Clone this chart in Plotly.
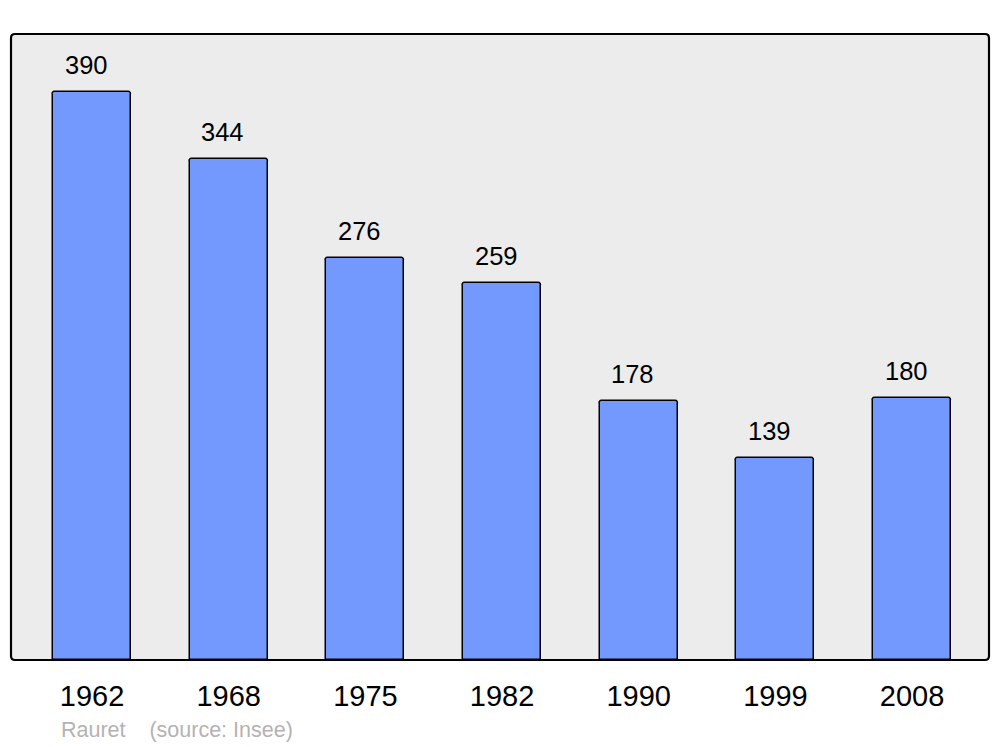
import plotly.graph_objects as go

years = ["1962", "1968", "1975", "1982", "1990", "1999", "2008"]
population = [390, 344, 276, 259, 178, 139, 180]
source_text = "Rauret    (source: Insee)"

W, H = 1000, 747
L, R, T, B = 11, 11, 34, 87
pw, ph = W - L - R, H - T - B
FONT = "Liberation Sans, Arial, sans-serif"

xs = list(range(len(years)))

fig = go.Figure()
fig.add_trace(go.Bar(
    x=xs, y=population, width=0.57,
    marker=dict(color="#7399ff", line=dict(color="#000000", width=1.5), cornerradius=3),
    hoverinfo="skip",
))

for x, v in zip(xs, population):
    fig.add_annotation(x=x, y=v, text=str(v), showarrow=False, yanchor="bottom",
                       yshift=11, xshift=-6,
                       font=dict(family=FONT, size=25.5, color="#000"))

fig.add_annotation(xref="paper", yref="paper", x=(59 - L) / pw, y=-(730 - (H - B)) / ph,
                   xanchor="left", yanchor="middle", text=source_text, showarrow=False,
                   font=dict(family=FONT, size=21.5, color="#b3b3b3"))

# rounded frame
rx, ry = 4 / pw, 4 / ph
path = (f"M {rx},0 L {1-rx},0 Q 1,0 1,{ry} L 1,{1-ry} Q 1,1 {1-rx},1 "
        f"L {rx},1 Q 0,1 0,{1-ry} L 0,{ry} Q 0,0 {rx},0 Z")
fig.add_shape(type="path", xref="paper", yref="paper", path=path,
              line=dict(color="#000000", width=2.2), layer="above")

fig.update_layout(
    width=W, height=H,
    margin=dict(l=L, r=R, t=T, b=B),
    paper_bgcolor="#ffffff", plot_bgcolor="#ececec",
    showlegend=False, bargap=0,
    xaxis=dict(range=[-0.593, 6.563], tickvals=xs, ticktext=years,
               showgrid=False, zeroline=False, showline=False,
               ticks="outside", ticklen=10, tickcolor="rgba(0,0,0,0)",
               tickfont=dict(family=FONT, size=29, color="#000")),
    yaxis=dict(range=[0, 429.8], showgrid=False, zeroline=False, showline=False,
               showticklabels=False, ticks=""),
)

fig.write_html("out.html", config={"displayModeBar": False},
               post_script="document.body.style.margin='0';document.body.style.overflow='hidden';")
